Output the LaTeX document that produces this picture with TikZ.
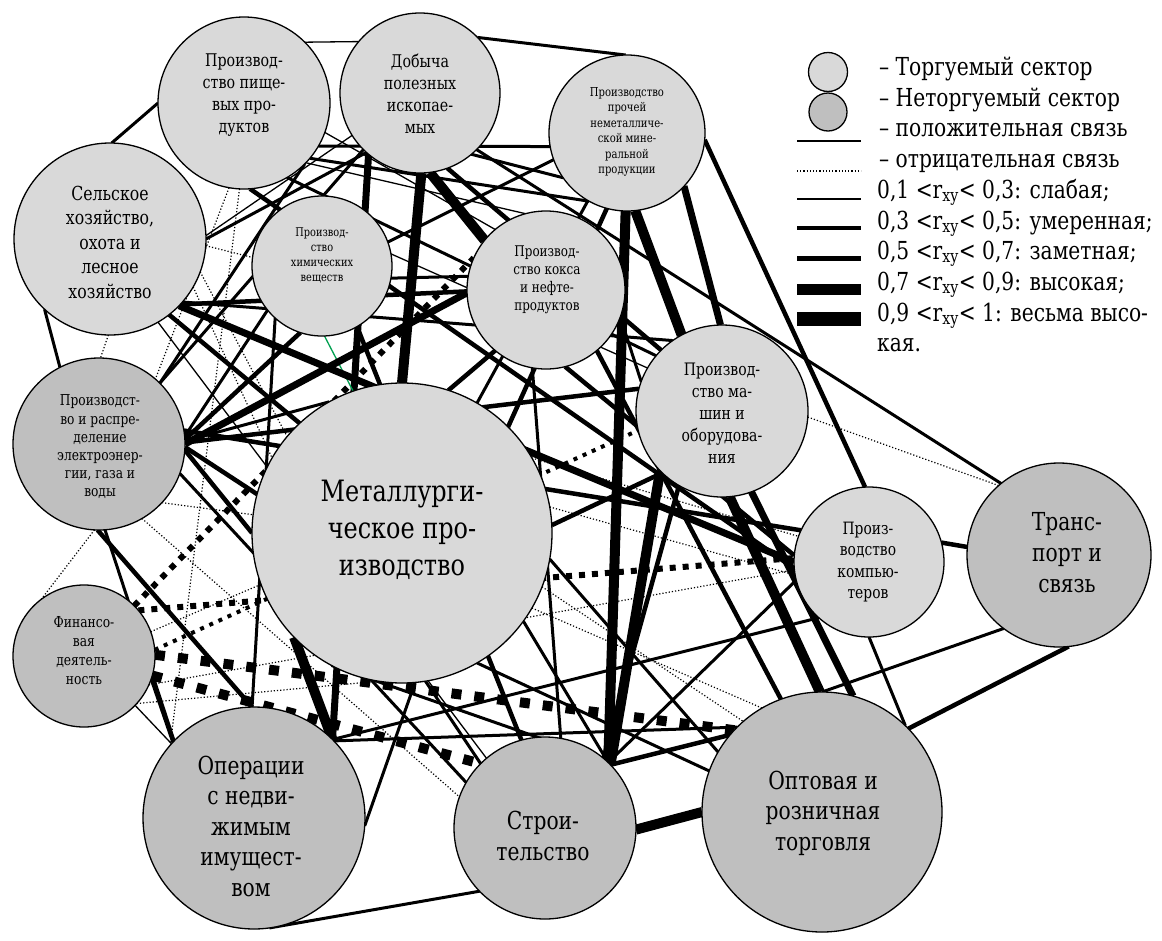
\documentclass[tikz,border=0pt]{standalone}
\usepackage{fontspec}
\setmainfont{DejaVu Serif}[FakeStretch=0.815]
\pgfdeclarelayer{bgl}
\pgfdeclarelayer{edges}
\pgfsetlayers{bgl,edges,main}
\definecolor{lightg}{RGB}{217,217,217}
\definecolor{darkg}{RGB}{191,191,191}
\definecolor{grn}{RGB}{0,160,80}
\begin{document}
\begin{tikzpicture}[x=1pt,y=-1pt,
  sect/.style={circle, draw=black, line width=1.3pt, inner sep=0pt, outer sep=0pt},
  trd/.style={sect, fill=lightg},
  ntr/.style={sect, fill=darkg},
  lbl/.style={align=center, inner sep=0pt, text=black},
  leg/.style={anchor=west, inner sep=0pt, text height=0.7em, text depth=0.25em, font=\fontsize{24.8pt}{31pt}\selectfont},
  lw1/.style={line width=1.3pt},
  lw2/.style={line width=3pt},
  lw3/.style={line width=4.5pt},
  lw4/.style={line width=7pt},
  lw5/.style={line width=10pt},
  ln1/.style={line width=1.2pt, dash pattern=on 1.2pt off 2pt},
  ln2/.style={line width=4pt, dash pattern=on 4pt off 6pt},
  ln3/.style={line width=6pt, dash pattern=on 6pt off 7pt},
  ln4/.style={line width=10pt, dash pattern=on 10pt off 13pt}
]
\begin{pgfonlayer}{bgl}
\fill[white] (0,0) rectangle (1162,940);
\end{pgfonlayer}
\useasboundingbox (0,0) rectangle (1162,940);

% sectors
\node[trd, minimum size=172pt] (F) at (244,103) {};
\node[trd, minimum size=160pt] (Mi) at (420,93) {};
\node[trd, minimum size=156pt] (N) at (627,133) {};
\node[trd, minimum size=192pt] (A) at (110,239) {};
\node[trd, minimum size=140pt] (C) at (322,266) {};
\node[trd, minimum size=158pt] (K) at (546,290) {};
\node[trd, minimum size=172pt] (Ma) at (722,411) {};
\node[ntr, minimum size=172pt] (E) at (99,444) {};
\node[trd, minimum size=300pt] (Me) at (402,533) {};
\node[trd, minimum size=150pt] (P) at (869,562) {};
\node[ntr, minimum size=184pt] (T) at (1059,555) {};
\node[ntr, minimum size=142pt] (Fi) at (84,656) {};
\node[ntr, minimum size=222pt] (R) at (254,818) {};
\node[ntr, minimum size=182pt] (S) at (545,828) {};
\node[ntr, minimum size=240pt] (W) at (822,812) {};

% labels
\node[lbl, font=\fontsize{17.5pt}{22pt}\selectfont] (Ft) at (244,95) {Производ-\\ство пище-\\вых про-\\дуктов};
\node[lbl, font=\fontsize{17.5pt}{22pt}\selectfont] (Mit) at (420,94) {Добыча\\полезных\\ископае-\\мых};
\node[lbl, font=\fontsize{12.3pt}{15.5pt}\selectfont] (Nt) at (627,132) {Производство\\прочей\\неметалличе-\\ской мине-\\ральной\\продукции};
\node[lbl, font=\fontsize{19.3pt}{24.5pt}\selectfont] (At) at (110,242) {Сельское\\хозяйство,\\охота и\\лесное\\хозяйство};
\node[lbl, font=\fontsize{12pt}{15pt}\selectfont] (Ct) at (322,255) {Производ-\\ство\\химических\\веществ};
\node[lbl, font=\fontsize{14.7pt}{18pt}\selectfont] (Kt) at (547,280) {Производ-\\ство кокса\\и нефте-\\продуктов};
\node[lbl, font=\fontsize{17.2pt}{22pt}\selectfont] (Mat) at (722,413) {Производ-\\ство ма-\\шин и\\оборудова-\\ния};
\node[lbl, font=\fontsize{15pt}{18.2pt}\selectfont] (Et) at (100,447) {Производст-\\во и распре-\\деление\\электроэнер-\\гии, газа и\\воды};
\node[lbl, font=\fontsize{29.4pt}{37pt}\selectfont] (Met) at (402,530) {Металлурги-\\ческое про-\\изводство};
\node[lbl, font=\fontsize{17pt}{21.5pt}\selectfont] (Pt) at (868,562) {Произ-\\водство\\компью-\\теров};
\node[lbl, font=\fontsize{24.8pt}{31pt}\selectfont] (Tt) at (1067,553) {Транс-\\порт и\\связь};
\node[lbl, font=\fontsize{15.1pt}{19pt}\selectfont] (Fit) at (84,651) {Финансо-\\вая\\деятель-\\ность};
\node[lbl, font=\fontsize{24.8pt}{30.5pt}\selectfont] (Rt) at (251,826) {Операции\\с недви-\\жимым\\имущест-\\вом};
\node[lbl, font=\fontsize{24.8pt}{30.5pt}\selectfont] (St) at (543,836) {Строи-\\тельство};
\node[lbl, font=\fontsize{24.8pt}{30.5pt}\selectfont] (Wt) at (823,813) {Оптовая и\\розничная\\торговля};

\begin{pgfonlayer}{edges}
% positive links
\draw[lw1] (F.45) -- (Mi.140);
\draw[lw2] (Mi.44) -- (N.91);
\draw[lw2] (F.180) -- (A.89);
\draw[lw2] (A.227) -- (E.117);
\draw[lw3] (N.-5) -- (P.93);
\draw[lw2] (Mi.-45) -- (T.129);
\draw[lw3] (P.15) -- (T.175);
\draw[lw2] (P.-90) -- (W.46);
\draw[lw3] (T.-84) -- (W.44);
\draw[lw2] (T.-127) -- (W.90);
\draw[lw5] (S.-1) -- (W.180);
\draw[lw2] (R.-82) -- (S.-136);
\draw[lw5] (N.-91) -- (S.46);
\draw[lw5] (N.-84) -- (Ma.118);
\draw[lw4] (N.-43) -- (Ma.91);
\draw[lw5] (Ma.-136) -- (S.44);
\draw[lw3] (E.-91) -- (R.91);
\draw[lw2] (E.-86) -- (R.136);
\draw[lw2] (Fi.-19) -- (R.137);
\draw[lw1] (Fi.-44) -- (R.138);
\draw[lw2] (C.-132) -- (R.91);
\draw[lw5] (Me.-136) -- (R.45);
\draw[lw4] (Mi.-130) -- (R.45);
\draw[lw5] (Mi.-89) -- (Me.90);
\draw[lw2] (R.44) -- (W.135);
\draw[lw2] (R.45) -- (P.-132);
\draw[lw2] (Me.-81) -- (S.135);
\draw[lw2] (Me.-85) -- (R.-4);
\draw[lw2] (Me.-118) -- (S.47);
\draw[lw1, draw=grn] (C.-88) -- (Me.109);
\draw[lw4] (E.0) -- (K.182);
\draw[lw3] (E.3) -- (C.-108);
\draw[lw2] (E.5) -- (C.-141);
\draw[lw2] (E.2) -- (Me.119);
\draw[lw3] (E.1) -- (Ma.165);
\draw[lw3] (E.-2) -- (Me.165);
\draw[lw3] (E.-4) -- (Me.180);
\draw[lw1] (F.-44) -- (K.105);
\draw[lw2] (F.-40) -- (N.-119);
\draw[lw3] (F.-86) -- (P.185);
\draw[lw4] (A.-44) -- (P.180);
\draw[lw2] (A.0) -- (Mi.228);
\draw[lw1] (A.2) -- (Mi.212);
\draw[lw3] (A.-43) -- (K.181);
\draw[lw2] (A.-41) -- (Ma.125);
\draw[lw3] (A.-52) -- (Me.133);
\draw[lw2] (S.46) -- (P.-166);
\draw[lw2] (Me.-36) -- (S.46);
\draw[lw3] (S.44) -- (W.140);
\draw[lw5] (Ma.-85) -- (W.91);
\draw[lw4] (Ma.-70) -- (W.75);
\draw[lw3] (Ma.-120) -- (S.50);
\draw[lw5] (Mi.-83) -- (K.141);
\draw[lw3] (K.-76) -- (P.175);
\draw[lw3] (K.-130) -- (Me.72);
\draw[lw3] (Ma.-134) -- (Me.3);
\draw[lw3] (E.9) -- (P.155);
\draw[lw2] (C.-10) -- (K.170);
\draw[lw2] (C.20) -- (N.200);
\draw[lw1] (C.10) -- (Ma.150);
\draw[lw3] (C.-60) -- (S.105);
\draw[lw2] (Mi.-50) -- (N.215);
\draw[lw2] (F.-30) -- (N.190);
\draw[lw3] (Mi.-70) -- (Ma.135);
\draw[lw2] (F.-60) -- (Ma.140);
\draw[lw1] (F.-20) -- (K.130);
\draw[lw2] (K.-20) -- (Ma.160);
\draw[lw3] (K.-50) -- (W.110);
\draw[lw2] (K.-100) -- (S.80);
\draw[lw2] (N.-120) -- (Me.60);
\draw[lw3] (N.-105) -- (Me.45);
\draw[lw2] (E.-20) -- (S.150);
\draw[lw1] (A.-60) -- (S.130);
\draw[lw2] (Me.-10) -- (W.150);
\draw[lw2] (Me.-60) -- (W.160);
\draw[lw2] (E.45) -- (F.-45);
\draw[lw2] (E.45) -- (Mi.-135);
% negative links
\draw[ln1] (A.269) -- (E.89);
\draw[ln1] (Ma.-4) -- (T.131);
\draw[ln4] (Fi.1) -- (W.137);
\draw[ln4] (Fi.-16) -- (S.135);
\draw[ln3] (Fi.40) -- (P.177);
\draw[ln2] (Fi.5) -- (Ma.193);
\draw[ln3] (Fi.45) -- (K.156);
\draw[ln1] (A.-4) -- (C.173);
\draw[ln1] (F.-93) -- (R.139);
\draw[ln1] (F.-100) -- (E.49);
\draw[ln1] (E.-93) -- (Fi.127);
\draw[ln1] (E.-43) -- (Me.173);
\draw[ln1] (Fi.-42) -- (Me.-99);
\draw[ln1] (Fi.-24) -- (P.186);
\draw[ln1] (Me.-21) -- (W.131);
\draw[ln1] (Me.30) -- (P.160);
\draw[ln1] (Me.10) -- (P.190);
\draw[ln1] (Me.-30) -- (W.120);
\draw[ln1] (E.-60) -- (S.160);
\draw[ln1] (Fi.20) -- (Me.200);
\draw[ln1] (A.-30) -- (Me.150);
\draw[ln1] (A.-20) -- (Me.140);
\end{pgfonlayer}

% legend
\node[trd, minimum size=39pt] (L1) at (828,72) {};
\node[ntr, minimum size=38pt] (L2) at (828,112) {};
\coordinate (a1) at (797,141); \coordinate (b1) at (861,141);
\coordinate (a2) at (797,171); \coordinate (b2) at (861,171);
\coordinate (a3) at (797,199); \coordinate (b3) at (861,199);
\coordinate (a4) at (797,228); \coordinate (b4) at (861,228);
\coordinate (a5) at (797,258); \coordinate (b5) at (861,258);
\coordinate (a6) at (797,289); \coordinate (b6) at (861,289);
\coordinate (a7) at (797,319); \coordinate (b7) at (861,319);
\draw[line width=2.2pt] (a1) -- (b1);
\draw[ln1] (a2) -- (b2);
\draw[line width=1.5pt] (a3) -- (b3);
\draw[line width=3.5pt] (a4) -- (b4);
\draw[line width=5pt] (a5) -- (b5);
\draw[line width=11pt] (a6) -- (b6);
\draw[line width=14pt] (a7) -- (b7);
\node[leg] (g1) at (879,73) {– Торгуемый сектор};
\node[leg] (g2) at (879,104) {– Неторгуемый сектор};
\node[leg] (g3) at (879,134) {– положительная связь};
\node[leg] (g4) at (879,165) {– отрицательная связь};
\node[leg] (g5) at (877,196) {0,1 <r\textsubscript{xy}< 0,3: слабая;};
\node[leg] (g6) at (877,227) {0,3 <r\textsubscript{xy}< 0,5: умеренная;};
\node[leg] (g7) at (877,257) {0,5 <r\textsubscript{xy}< 0,7: заметная;};
\node[leg] (g8) at (877,288) {0,7 <r\textsubscript{xy}< 0,9: высокая;};
\node[leg] (g9) at (877,319) {0,9 <r\textsubscript{xy}< 1: весьма высо-};
\node[leg] (g10) at (877,349) {кая.};
\end{tikzpicture}
\end{document}
